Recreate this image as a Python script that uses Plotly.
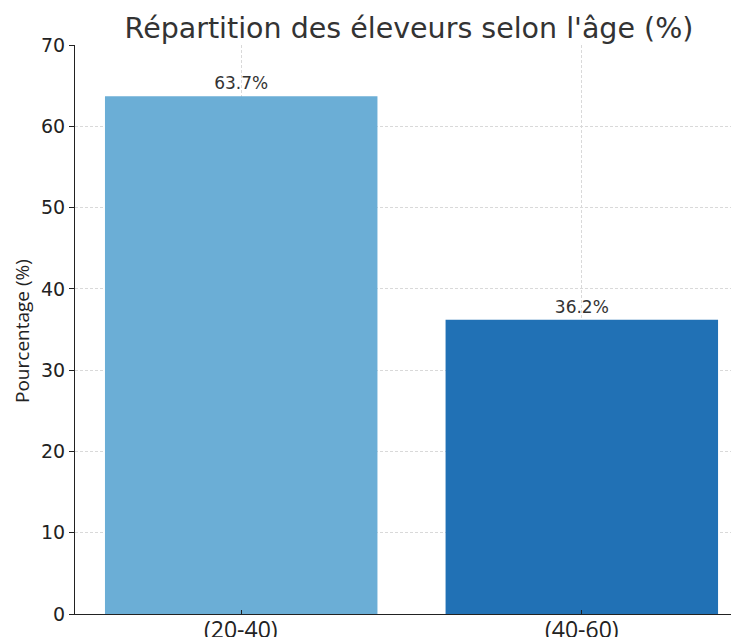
import plotly.graph_objects as go

categories = ["(20-40)", "(40-60)"]
values = [63.7, 36.2]
labels = ["63.7%", "36.2%"]
colors = ["#6baed6", "#2171b5"]
positions = list(range(len(categories)))

# the page body adds an 8px offset; margins compensate for it
OFF = 8

fig = go.Figure(go.Bar(
    x=positions, y=values, width=0.8,
    marker=dict(color=colors, line=dict(width=0)),
    text=labels, textposition="outside", cliponaxis=False,
    textfont=dict(family="DejaVu Sans", size=17, color="#333333"),
))

for p, c in zip(positions, categories):
    fig.add_annotation(x=p, xref="x", y=0, yref="paper", yanchor="top", yshift=3,
                       text=c, showarrow=False,
                       font=dict(family="Open Sans", size=23, color="#222222"))

fig.add_annotation(x=0, xref="paper", xshift=-53, xanchor="center",
                   y=(1 - (331 - 45) / 569), yref="paper", yanchor="middle",
                   text="Pourcentage (%)", textangle=-90, showarrow=False,
                   font=dict(family="Open Sans", size=19, color="#222222"))

fig.update_layout(
    width=739, height=637,
    margin=dict(l=75 - OFF, r=0, t=45 - OFF, b=637 - 614 + OFF),
    paper_bgcolor="white", plot_bgcolor="white",
    showlegend=False,
    title=dict(text="Répartition des éleveurs selon l'âge (%)",
               font=dict(family="DejaVu Sans", size=28.5, color="#333333"),
               x=(409 - OFF) / 739, xanchor="center", y=1 - (28 - OFF) / 637, yanchor="middle"),
    xaxis=dict(range=[-0.488, 1.485], tickmode="array", tickvals=positions,
               showticklabels=False, showline=True, linecolor="#222222", linewidth=1.2,
               ticks="inside", ticklen=4, tickcolor="#222222",
               showgrid=True, gridcolor="#d9d9d9", griddash="3px,2px", gridwidth=1,
               zeroline=False),
    yaxis=dict(range=[0, 70], dtick=10, showline=True, linecolor="#222222", linewidth=1.2,
               ticks="outside", ticklen=5, tickcolor="#222222",
               showgrid=True, gridcolor="#d9d9d9", griddash="3px,2px", gridwidth=1,
               tickfont=dict(family="DejaVu Sans", size=19, color="#222222"),
               automargin=False, zeroline=False),
)

fig.write_html("out.html")
